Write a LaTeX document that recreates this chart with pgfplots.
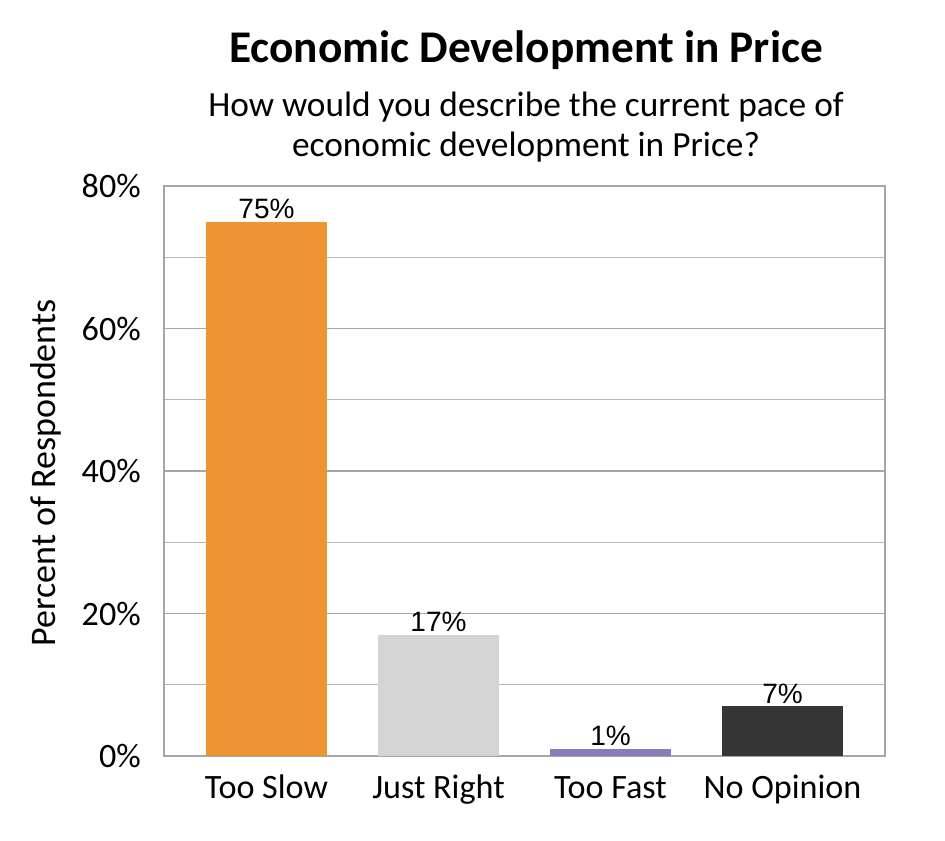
\documentclass[border=0pt]{standalone}
\usepackage{pgfplots}
\pgfplotsset{compat=1.18}
\usepackage{fontspec}
\setmainfont{Carlito}
\newfontfamily\arial{Liberation Sans}
\definecolor{cOrange}{HTML}{ED9434}
\definecolor{cLight}{HTML}{D4D4D4}
\definecolor{cPurple}{HTML}{8B7BB8}
\definecolor{cDark}{HTML}{363636}
\definecolor{cGrid}{HTML}{A6A6A6}
\definecolor{cMinor}{HTML}{B8B8B8}
\begin{document}
\begin{tikzpicture}
\begin{axis}[
  scale only axis,
  width=540.75pt, height=427.5pt,
  xmin=-0.596, xmax=3.596, ymin=0, ymax=80,
  xtick={0,1,2,3},
  xticklabels={Too Slow,Just Right,Too Fast,No Opinion},
  ytick={0,20,40,60,80},
  yticklabels={0\%,20\%,40\%,60\%,80\%},
  minor ytick={10,30,50,70},
  ymajorgrids, yminorgrids,
  major grid style={cGrid, line width=1.3pt},
  minor grid style={cMinor, line width=0.8pt},
  axis line style={cGrid, line width=1.6pt},
  major tick length=0pt, minor tick length=0pt,
  tick style={draw=none},
  ticklabel style={font=\fontsize{25.6}{30}\selectfont, inner sep=0pt},
  xticklabel style={anchor=base, yshift=-31.5pt},
  yticklabel style={anchor=east, xshift=-17.25pt},
  ybar, bar width=90.75pt,
  bar shift=0pt,
  nodes near coords={\arial\pgfmathprintnumber[assume math mode=true]{\pgfplotspointmeta}\%},
  nodes near coords style={font=\arial\fontsize{21}{24}\selectfont, black, anchor=base, inner sep=0pt, yshift=2.25pt},
  clip=false,
]
\addplot[fill=cOrange, draw=none] coordinates {(0,75)};
\addplot[fill=cLight, draw=none] coordinates {(1,17)};
\addplot[fill=cPurple, draw=none] coordinates {(2,1)};
\addplot[fill=cDark, draw=none] coordinates {(3,7)};
\end{axis}
\node[font=\bfseries\fontsize{34}{40}\selectfont] at (271.5pt,529.5pt) {Economic Development in Price};
\node[font=\fontsize{26.5}{30}\selectfont, align=center] at (271.5pt,471.75pt) {How would you describe the current pace of\\economic development in Price?};
\node[font=\fontsize{27}{30}\selectfont, rotate=90] at (-88.5pt,212.25pt) {Percent of Respondents};
\path[use as bounding box] (-123pt,-63pt) rectangle (585.75pt,567pt);
\end{tikzpicture}
\end{document}
